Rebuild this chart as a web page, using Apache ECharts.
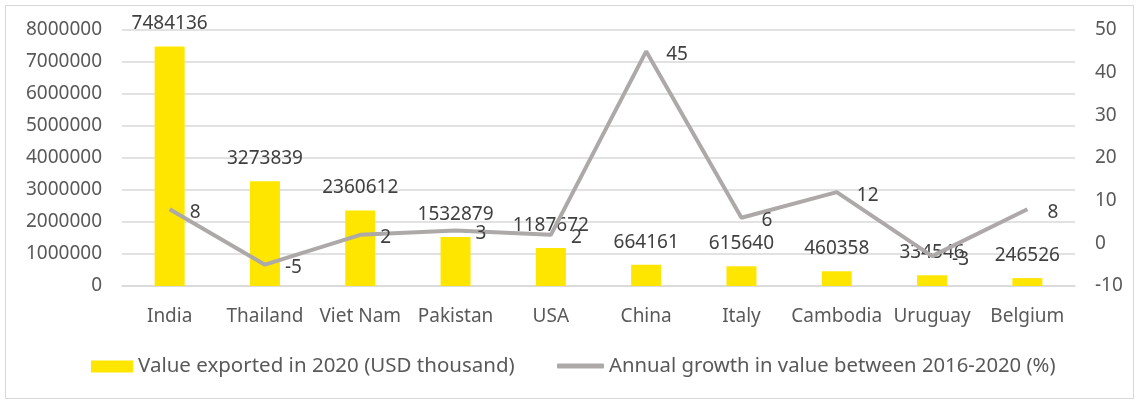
<!DOCTYPE html>
<html><head><meta charset="utf-8">
<script src="https://cdn.jsdelivr.net/npm/echarts@6/dist/echarts.min.js"></script>
<style>html,body{margin:0;padding:0;background:#fff}#c{width:1139px;height:403px}
#frame{position:absolute;left:5px;top:5px;width:1127px;height:392px;border:1.5px solid #d9d9d9;pointer-events:none}</style>
</head><body><div id="c"></div><div id="frame"></div>
<script>
const categories = ['India','Thailand','Viet Nam','Pakistan','USA','China','Italy','Cambodia','Uruguay','Belgium'];
const exportValues = [7484136, 3273839, 2360612, 1532879, 1187672, 664161, 615640, 460358, 334546, 246526];
const growthValues = [8, -5, 2, 3, 2, 45, 6, 12, -3, 8];
const barName = 'Value exported in 2020 (USD thousand)';
const lineName = 'Annual growth in value between 2016-2020 (%)';

const FONT = 'Noto Sans';
const TXT = '#595959';
const LINE = '#ADA9A9';
const chart = echarts.init(document.getElementById('c'));
chart.setOption({
  animation: false,
  textStyle: {fontFamily: FONT},
  grid: {left: 122, right: 64, top: 30, bottom: 117},
  legend: [{
    left: 86, top: 351, itemWidth: 42, itemHeight: 12,
    textStyle: {fontFamily: FONT, fontSize: 20.5, color: TXT},
    data: [{name: barName, icon: 'rect'}]
  }, {
    left: 552, top: 351, itemWidth: 47, itemHeight: 5, itemGap: 5,
    textStyle: {fontFamily: FONT, fontSize: 20.3, color: TXT},
    data: [{name: lineName, icon: 'roundRect'}]
  }],
  xAxis: {
    type: 'category', data: categories,
    axisLine: {lineStyle: {color: '#d9d9d9', width: 1.5}},
    axisTick: {show: false},
    axisLabel: {fontFamily: FONT, fontSize: 19, color: TXT, margin: 21, interval: 0}
  },
  yAxis: [{
    type: 'value', min: 0, max: 8000000, interval: 1000000,
    axisLine: {show: false}, axisTick: {show: false},
    splitLine: {lineStyle: {color: '#d9d9d9', width: 1.5}},
    axisLabel: {fontFamily: FONT, fontSize: 19, color: TXT, margin: 20, formatter: v => String(v)}
  }, {
    type: 'value', min: -10, max: 50, interval: 10,
    axisLine: {show: false}, axisTick: {show: false}, splitLine: {show: false},
    axisLabel: {fontFamily: FONT, fontSize: 19, color: TXT, margin: 20}
  }],
  series: [{
    name: barName, type: 'bar', data: exportValues, barWidth: 30,
    itemStyle: {color: '#FFE600'},
    label: {show: true, position: 'top', distance: 13, fontFamily: FONT, fontSize: 19, color: '#404040'}
  }, {
    name: lineName, type: 'line', yAxisIndex: 1, data: growthValues,
    symbol: 'circle', symbolSize: 0.1, showSymbol: true,
    lineStyle: {color: LINE, width: 4},
    itemStyle: {color: LINE},
    label: {show: true, position: 'right', distance: 20, offset: [0, 3], fontFamily: FONT, fontSize: 19, color: '#404040'}
  }]
});
</script></body></html>
